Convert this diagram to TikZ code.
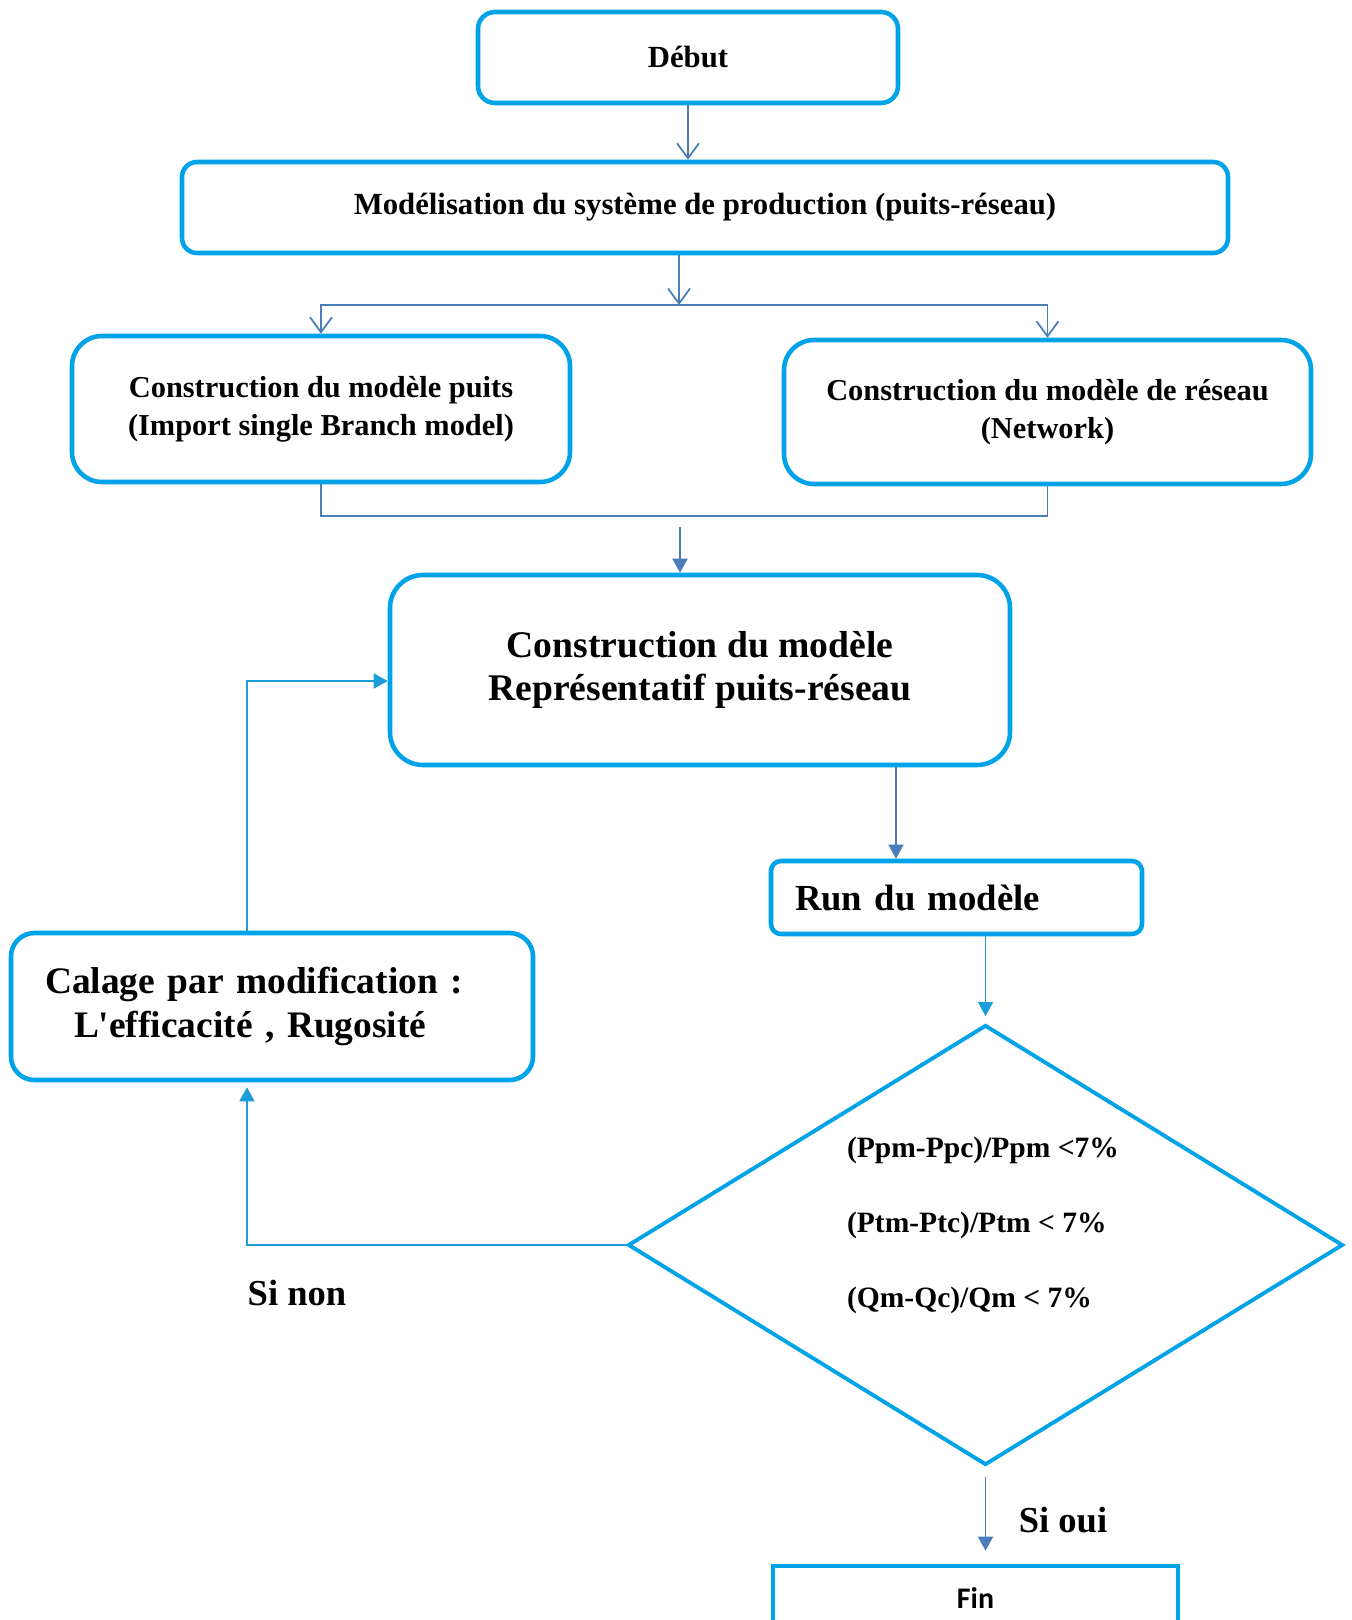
\documentclass[tikz,border=0pt]{standalone}
\usepackage{fontspec}
\setmainfont{Liberation Serif}
\newfontfamily\finfont{Carlito}
\usetikzlibrary{arrows.meta,shapes.geometric}
\definecolor{boxblue}{HTML}{00A2E8}
\definecolor{linkblue}{HTML}{4A7EBB}
\definecolor{loopblue}{HTML}{1B9DDB}
\tikzset{
  stage/.style={draw=boxblue, line width=2.6pt, align=center},
  link/.style={color=linkblue, line width=1pt},
  openarrow/.style={link, -{Straight Barb[length=0.3cm,width=0.44cm]}},
  fillarrow/.style={link, -{Triangle[length=0.28cm,width=0.3cm]}},
}
\begin{document}
\begin{tikzpicture}[y=-1cm]
\useasboundingbox (0,0) rectangle (27.02,32.4);
% etapes
\node[stage, rounded corners=0.34cm, minimum width=8.4cm, minimum height=1.82cm,
  font=\bfseries\fontsize{17.5}{21.5}\selectfont] (debut) at (13.76,1.15) {Début};
\node[stage, rounded corners=0.3cm, minimum width=20.92cm, minimum height=1.82cm,
  font=\bfseries\fontsize{17.5}{21.5}\selectfont] (model) at (14.10,4.15)
  {Modélisation du système de production (puits-réseau)};
\node[stage, rounded corners=0.6cm, minimum width=9.96cm, minimum height=2.92cm,
  font=\bfseries\fontsize{17.3}{21.5}\selectfont] (puits) at (6.42,8.18)
  {Construction du modèle puits\\(Import single Branch model)};
\node[stage, rounded corners=0.6cm, minimum width=10.54cm, minimum height=2.88cm,
  font=\bfseries\fontsize{17.3}{21.5}\selectfont] (reseau) at (20.95,8.24)
  {Construction du modèle de réseau\\(Network)};
\node[stage, rounded corners=0.66cm, minimum width=12.4cm, minimum height=3.8cm,
  font=\bfseries\fontsize{21.4}{24.6}\selectfont] (rep) at (14.0,13.4)
  {Construction du modèle\\Représentatif puits-réseau};
\node[stage, rounded corners=0.2cm, minimum height=1.46cm, text width=6.46cm,
  inner xsep=0.48cm, align=left,
  font=\bfseries\fontsize{20.9}{24}\selectfont] (run) at (19.13,17.95) {Run du modèle};
\node[stage, rounded corners=0.47cm, minimum height=2.94cm, text width=9.08cm,
  inner xsep=0.68cm, align=left,
  font=\bfseries\fontsize{21.3}{24.6}\selectfont] (calage) at (5.44,20.13)
  {Calage par modification :\\\hspace*{0.58cm}L\textquotesingle efficacité , Rugosité};
% test
\node[draw=boxblue, line width=2.2pt, shape=diamond, minimum width=14.3cm,
  minimum height=8.8cm, inner sep=0pt] (dec) at (19.71,24.9) {};
\node[align=left, font=\bfseries\fontsize{16.8}{42.7}\selectfont] (crit) at (19.66,24.5)
  {(Ppm-Ppc)/Ppm <7\%\\(Ptm-Ptc)/Ptm < 7\%\\(Qm-Qc)/Qm < 7\%};
\node[draw=boxblue, line width=2.6pt, minimum width=8.1cm, minimum height=1.28cm,
  font=\finfont\bfseries\fontsize{17}{20}\selectfont] (fin) at (19.51,31.96) {Fin};
\node[font=\bfseries\fontsize{20.8}{25}\selectfont] (sinon) at (5.94,25.86) {Si non};
\node[font=\bfseries\fontsize{20.8}{25}\selectfont] (sioui) at (21.26,30.40) {Si oui};
% liaisons
\coordinate (split) at (13.58,6.10);
\coordinate (merge) at (13.6,10.32);
\coordinate (runin) at ([xshift=3.92cm]rep.south);
\coordinate (calin) at ([xshift=-0.5cm]calage.south);
\coordinate (calout) at ([xshift=-0.5cm]calage.north);
\coordinate (finin) at (dec.south |- fin.north);
\draw[openarrow] (debut.south) -- (debut.south |- model.north);
\draw[openarrow] (model.south -| split) -- (split);
\draw[openarrow] (split) -| (puits.north);
\draw[openarrow] (split) -| (reseau.north);
\draw[link] (puits.south) |- (merge) -| (reseau.south);
\draw[fillarrow] ([yshift=-0.22cm]merge) -- (merge |- rep.north);
\draw[fillarrow] (runin) -- (runin |- run.north);
\draw[fillarrow, color=loopblue] (run.south -| dec.north) -- ([yshift=0.14cm]dec.north);
\draw[fillarrow, color=loopblue] (dec.west) -| ([yshift=-0.1cm]calin);
\draw[fillarrow, color=loopblue] (calout) |- ([yshift=-0.22cm]rep.west);
\draw[fillarrow] ([yshift=-0.2cm]dec.south) -- ([yshift=0.26cm]finin);
\end{tikzpicture}
\end{document}
